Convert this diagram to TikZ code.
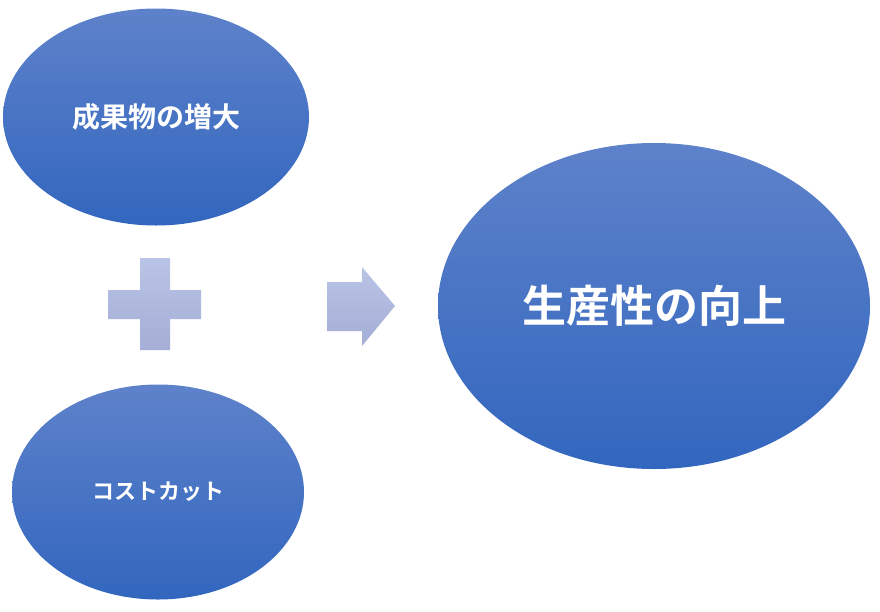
\documentclass[tikz,border=0pt]{standalone}
\usepackage{fontspec}
\newfontfamily\cjk{Noto Sans CJK JP}[BoldFont={Noto Sans CJK JP Bold}]
\usetikzlibrary{shapes.geometric}
\definecolor{elltop}{RGB}{94,130,202}
\definecolor{ellbot}{RGB}{50,102,190}
\definecolor{symtop}{RGB}{186,196,230}
\definecolor{symbot}{RGB}{164,174,214}
\tikzset{
  blob/.style={ellipse, inner sep=0pt, top color=elltop, bottom color=ellbot,
    text=white, font=\cjk\bfseries},
  symb/.style={top color=symtop, bottom color=symbot, draw=none}
}
\begin{document}
\begin{tikzpicture}[x=1pt,y=-1pt]
\useasboundingbox (0,0) rectangle (880,611);
\node[blob, minimum width=306pt, minimum height=217pt, font=\cjk\bfseries\fontsize{28}{32}\selectfont] (a) at (156,117) {成果物の増大};
\node[blob, minimum width=292pt, minimum height=215pt, font=\cjk\bfseries\fontsize{22}{26}\selectfont] (b) at (158,492) {コストカット};
\node[blob, minimum width=432pt, minimum height=326pt, font=\cjk\bfseries\fontsize{44}{48}\selectfont] (c) at (654,306) {生産性の向上};
% plus sign
\path[symb] (140,258) -- (170,258) -- (170,290) -- (201,290) -- (201,319) -- (170,319) -- (170,350) -- (140,350) -- (140,319) -- (108,319) -- (108,290) -- (140,290) -- cycle;
% block arrow
\path[symb] (327,282) -- (362,282) -- (362,267) -- (395,306) -- (362,346) -- (362,331) -- (327,331) -- cycle;
\end{tikzpicture}
\end{document}
